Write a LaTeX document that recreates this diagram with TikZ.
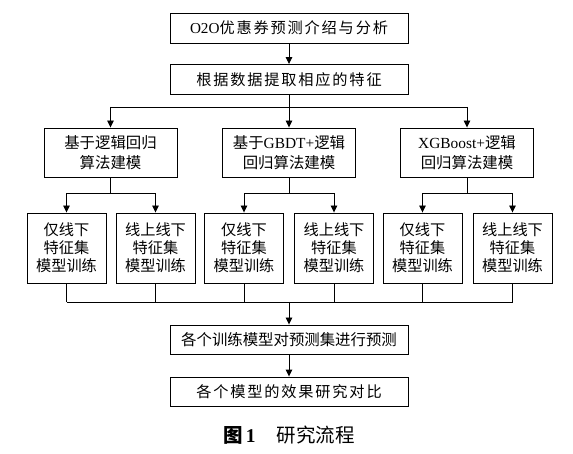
\documentclass[tikz,border=0pt]{standalone}
\usepackage{fontspec}
\setmainfont{Noto Sans CJK SC}
\newfontfamily\lat{Liberation Serif}
\newfontfamily\cjksp{Noto Sans CJK SC}[LetterSpace=12]
\usetikzlibrary{arrows.meta,calc}
\begin{document}
\begin{tikzpicture}[x=1pt,y=-1pt,
  box/.style={draw, line width=0.9pt, inner sep=0pt, align=center,
              font=\fontsize{15.2}{18}\selectfont},
  wide/.style={box, minimum width=238pt, minimum height=30pt},
  mid/.style={box, minimum width=133pt, minimum height=49pt, font=\fontsize{15.4}{20}\selectfont},
  leaf/.style={box, minimum width=79pt, minimum height=70pt},
  ln/.style={line width=0.9pt},
  arr/.style={ln, -{Triangle[length=7pt,width=6.5pt]}}]
\useasboundingbox (0,0) rectangle (573,454);
\node[wide] (b1) at (289,28) {{\lat O2O}{\cjksp 优惠券预测介绍与分析}};
\node[wide] (b2) at (289,79.5) {\cjksp 根据数据提取相应的特征};
\coordinate (j1) at (289,107);
\node[mid] (m1) at (110.5,152.5) {基于逻辑回归\\算法建模};
\node[mid] (m2) at (289,152.5) {基于{\lat GBDT+}逻辑\\回归算法建模};
\node[mid] (m3) at (467,152.5) {{\lat XGBoost+}逻辑\\回归算法建模};
\node[leaf] (l1) at (66.5,248) {仅线下\\特征集\\模型训练};
\node[leaf] (l2) at (155.5,248) {线上线下\\特征集\\模型训练};
\node[leaf] (l3) at (244,248) {仅线下\\特征集\\模型训练};
\node[leaf] (l4) at (334,248) {线上线下\\特征集\\模型训练};
\node[leaf] (l5) at (422.5,248) {仅线下\\特征集\\模型训练};
\node[leaf] (l6) at (512.5,248) {线上线下\\特征集\\模型训练};
\coordinate (j2) at (289,302);
\node[wide, minimum height=29pt, font=\fontsize{15.4}{18}\selectfont] (b7) at (289,339.5) {各个训练模型对预测集进行预测};
\node[wide, minimum height=29pt] (b8) at (289,391.5) {\cjksp 各个模型的效果研究对比};
\node[font=\fontsize{19.5}{22}\selectfont] (cap) at (289,435) {{\bfseries 图\,{\lat 1}}\hspace{1.1em}研究流程};
% connectors
\draw[arr] (b1) -- (b2);
\draw[ln] (b2.south) -- (j1);
\draw[ln] (m1.north |- j1) -- (m3.north |- j1);
\draw[arr] (m1.north |- j1) -- (m1.north);
\draw[arr] (j1) -- (m2.north);
\draw[arr] (m3.north |- j1) -- (m3.north);
\foreach \m/\a/\b in {m1/l1/l2, m2/l3/l4, m3/l5/l6}{
  \coordinate (k\m) at ($(\m.south)+(0,16)$);
  \draw[ln] (\m.south) -- (k\m);
  \draw[ln] (\a.north |- k\m) -- (\b.north |- k\m);
  \draw[arr] (\a.north |- k\m) -- (\a.north);
  \draw[arr] (\b.north |- k\m) -- (\b.north);
}
\foreach \l in {l1,l2,l3,l4,l5,l6}{
  \draw[ln] (\l.south) -- (\l.south |- j2);
}
\draw[ln] (l1.south |- j2) -- (l6.south |- j2);
\draw[arr] (j2) -- (b7.north);
\draw[arr] (b7) -- (b8);
\end{tikzpicture}
\end{document}
